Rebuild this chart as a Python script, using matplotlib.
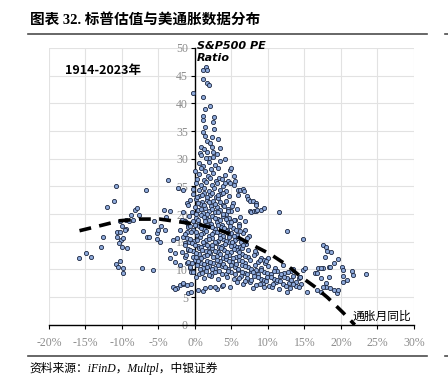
import numpy as np
import matplotlib.pyplot as plt
from matplotlib.lines import Line2D

# CPI yoy (%) vs S&P500 PE, monthly 1914-2023
deflation_pts = [
    (-15.9, 12.0), (-14.9, 13.0), (-14.2, 12.2), (-12.8, 14.0), (-12.6, 15.8), (-12.1, 21.2),
    (-11.1, 22.4), (-10.8, 25.1), (-10.8, 11.0), (-10.3, 11.6), (-10.5, 10.5), (-9.9, 10.2),
    (-9.9, 9.3), (-10.7, 15.9), (-10.6, 16.7), (-10.3, 16.8), (-10.1, 15.3), (-9.8, 15.6),
    (-10.4, 14.7), (-10.0, 14.1), (-9.3, 13.8), (-9.5, 17.4), (-10.0, 17.8), (-9.6, 17.1),
    (-10.3, 18.7), (-9.4, 19.0), (-9.0, 18.8), (-8.7, 19.9), (-8.2, 20.8), (-7.9, 21.1),
    (-7.7, 19.9), (-8.5, 19.0), (-6.7, 24.4), (-7.1, 17.0), (-6.5, 15.9), (-6.3, 15.8),
    (-7.2, 10.2), (-5.7, 9.9), (-5.6, 18.8), (-5.2, 16.6), (-5.0, 17.1), (-4.7, 17.8),
    (-4.1, 17.1), (-5.2, 15.5), (-4.8, 15.0), (-3.9, 19.5), (-4.2, 20.8), (-3.4, 20.6),
    (-3.7, 26.2), (-3.4, 13.5), (-2.7, 12.9), (-3.4, 12.0), (-2.7, 11.4), (-3.0, 15.3),
    (-2.5, 15.6), (-2.3, 24.7), (-1.6, 24.4), (-2.1, 17.1), (-1.8, 19.0), (-1.1, 22.0),
    (-0.9, 18.1), (-1.1, 16.8), (-1.6, 15.9), (-1.4, 14.7), (-0.9, 13.5), (-1.4, 12.3),
    (-1.1, 11.1), (-2.1, 10.8), (-0.7, 10.2), (-0.5, 9.6), (-3.0, 6.9), (-2.5, 6.6),
    (-2.1, 7.2), (-1.6, 7.3), (-1.1, 7.2), (-0.5, 7.3), (-0.9, 5.7), (-0.5, 6.0),
    (-2.7, 6.5), (-0.2, 41.8), (-1.6, 20.3), (-1.3, 18.8), (-0.8, 15.0), (-1.7, 13.1),
]

high_pe_pts = [
    (1.1, 46.0), (1.5, 46.6), (1.6, 46.1), (1.1, 44.4), (1.6, 43.6), (2.0, 43.3),
    (1.1, 41.2), (2.1, 39.6), (1.4, 39.0), (1.1, 37.7), (1.1, 37.0), (2.6, 37.6),
    (2.5, 36.7), (2.6, 35.3), (1.4, 35.8), (1.1, 34.9), (1.4, 34.1), (2.4, 33.9),
    (3.2, 33.5), (1.6, 33.2), (2.1, 32.8), (0.9, 32.2), (2.3, 32.1), (3.5, 31.9),
]

body_pts = [
    (0.7, 31.1), (1.6, 31.3), (2.5, 31.3), (0.9, 30.6), (2.0, 30.2), (1.3, 31.8), (3.0, 30.8),
    (1.5, 30.1), (2.5, 30.4), (4.1, 29.9), (0.5, 29.2), (1.1, 28.7), (1.9, 29.4), (2.7, 28.9),
    (3.4, 29.5), (4.8, 28.0), (2.2, 28.2), (0.8, 28.3), (3.1, 28.4), (1.4, 27.7), (0.0, 27.7),
    (0.6, 27.2), (1.8, 26.9), (2.5, 27.4), (3.3, 26.6), (4.1, 27.0), (5.3, 26.8), (0.3, 26.4),
    (1.2, 26.1), (2.1, 26.5), (2.9, 26.0), (3.7, 26.3), (4.5, 26.0), (5.0, 28.3),
    (0.1, 25.6), (0.8, 25.2), (1.5, 25.8), (2.3, 25.3), (3.0, 25.7), (3.8, 25.1), (4.1, 25.6),
    (4.8, 25.6), (5.3, 25.3), (5.5, 25.9), (-0.3, 24.6), (0.5, 24.3), (1.2, 24.8), (1.9, 24.2),
    (2.6, 24.7), (3.4, 24.4), (4.3, 24.2), (5.9, 24.4), (6.2, 24.4), (6.6, 24.5),
    (-0.2, 23.6), (0.6, 23.2), (1.3, 23.8), (2.1, 23.4), (2.9, 23.1), (3.6, 23.7), (3.9, 23.8),
    (4.7, 23.3), (5.9, 23.5), (6.7, 24.1), (7.1, 23.2), (-0.6, 22.5), (0.2, 22.8), (1.0, 22.2),
    (1.7, 22.6), (2.5, 22.3), (3.2, 22.9), (4.2, 22.4), (5.2, 22.0), (7.3, 22.7), (7.5, 22.3),
    (8.0, 22.4), (8.4, 22.0), (8.4, 21.7),
    (-0.9, 21.6), (0.0, 21.3), (0.7, 21.8), (1.4, 21.1), (2.2, 21.5), (3.0, 21.2), (3.8, 21.7),
    (4.5, 21.0), (5.1, 21.4), (-0.4, 20.4), (0.4, 20.7), (1.1, 20.2), (1.9, 20.6), (2.7, 20.3),
    (3.5, 20.8), (4.2, 20.1), (5.0, 20.5), (5.8, 20.9), (7.5, 20.5), (7.7, 20.3), (8.1, 20.5),
    (8.4, 20.6), (8.5, 20.8), (9.1, 20.8), (9.4, 21.1), (11.5, 20.3),
    (-0.8, 19.6), (0.1, 19.3), (0.9, 19.8), (1.6, 19.2), (2.4, 19.6), (3.1, 19.1), (3.9, 19.7),
    (4.7, 19.3), (5.5, 19.0), (6.2, 19.5), (-1.2, 18.5), (-0.3, 18.8), (0.6, 18.3), (1.4, 18.7),
    (2.2, 18.2), (3.0, 18.6), (3.7, 18.1), (4.5, 18.5), (5.3, 18.9), (6.1, 18.3), (6.8, 18.7),
    (-1.0, 17.6), (-0.2, 17.2), (0.5, 17.8), (1.3, 17.4), (2.0, 17.9), (2.8, 17.3), (3.6, 17.7),
    (4.4, 17.1), (5.2, 17.5), (6.0, 17.8), (6.8, 17.2), (-1.4, 16.4), (-0.5, 16.7), (0.3, 16.2),
    (1.1, 16.6), (1.9, 16.1), (2.6, 16.8), (3.4, 16.3), (4.2, 16.9), (5.0, 16.6), (5.8, 16.2),
    (6.6, 16.5), (7.4, 16.1),
    (-1.1, 15.6), (-0.1, 15.2), (0.7, 15.8), (1.5, 15.3), (2.3, 15.7), (3.1, 15.1), (3.9, 15.5),
    (4.7, 15.9), (5.5, 15.4), (6.3, 15.0), (7.2, 15.6), (-1.3, 14.4), (-0.4, 14.8), (0.4, 14.2),
    (1.2, 14.6), (2.0, 14.1), (2.9, 14.7), (3.7, 14.3), (4.6, 14.9), (5.4, 14.5), (5.7, 14.1),
    (6.2, 14.0), (7.0, 14.6), (8.4, 13.0),
    (-1.0, 13.7), (-0.2, 13.3), (0.6, 13.9), (1.5, 13.4), (2.3, 13.8), (3.2, 13.2), (4.0, 13.6),
    (4.9, 13.1), (5.7, 13.5), (6.5, 13.9), (7.3, 13.5), (8.2, 13.3), (-1.2, 12.6), (-0.3, 12.2),
    (0.5, 12.8), (1.3, 12.4), (2.1, 12.9), (3.0, 12.5), (3.8, 12.1), (4.7, 12.7), (5.6, 12.3),
    (6.4, 12.8), (7.3, 12.2), (8.1, 12.6), (9.0, 12.1), (10.0, 12.0),
    (-0.9, 11.4), (0.0, 11.8), (0.8, 11.2), (1.7, 11.6), (2.5, 11.1), (3.4, 11.5), (4.2, 11.9),
    (5.1, 11.3), (6.0, 11.7), (6.9, 11.2), (7.5, 11.7), (8.7, 11.4), (8.9, 11.7), (9.4, 11.7),
    (9.6, 11.1), (9.8, 11.6), (-0.6, 10.4), (0.3, 10.8), (1.1, 10.3), (2.0, 10.7), (2.8, 10.2),
    (3.7, 10.6), (4.6, 10.1), (5.5, 10.5), (6.4, 10.9), (7.3, 10.4), (8.2, 10.8), (9.1, 10.2),
    (10.0, 10.6), (11.0, 10.3), (12.1, 10.8),
    (-0.3, 9.6), (0.6, 9.2), (1.5, 9.8), (2.4, 9.3), (3.3, 9.7), (4.2, 9.1), (5.0, 9.5),
    (5.9, 9.9), (6.8, 9.4), (7.7, 9.8), (8.4, 9.9), (8.6, 9.2), (9.5, 9.6), (10.4, 9.1),
    (11.3, 9.7), (12.2, 9.3), (13.1, 9.8), (13.5, 10.0), (0.2, 8.7), (1.2, 8.4), (2.2, 8.9),
    (3.2, 8.3), (4.4, 8.6), (5.4, 8.2), (6.3, 8.8), (7.2, 8.4), (8.1, 8.9), (9.0, 8.3),
    (9.9, 8.7), (10.8, 8.2), (11.7, 8.8), (12.6, 8.4), (13.5, 8.9), (14.3, 8.5), (14.4, 8.7),
    (13.9, 7.8), (5.8, 7.7), (6.6, 7.3), (7.5, 7.8), (8.4, 7.2), (9.3, 7.6), (10.2, 7.1),
    (11.1, 7.7), (12.0, 7.3), (12.9, 7.6), (13.8, 7.0), (14.6, 7.4), (14.2, 6.9), (13.0, 6.6),
    (12.6, 6.0), (11.5, 6.5), (10.5, 6.8), (9.5, 6.9), (8.0, 6.7),
    (0.4, 6.3), (1.1, 6.2), (2.1, 6.8), (3.0, 6.5), (3.7, 7.0), (4.8, 6.9), (1.4, 6.6),
    (-1.6, 7.5), (2.7, 6.9), (3.8, 7.2),
]

# the dense core between 0% and 5%, second pass
core_pts = [
    (0.3, 23.1), (1.0, 23.5), (1.7, 23.0), (2.4, 23.9), (3.1, 23.5), (0.4, 22.0), (1.2, 21.6),
    (2.0, 22.1), (2.8, 21.8), (3.5, 22.2), (4.0, 21.4), (0.2, 20.1), (0.9, 20.9), (1.6, 20.0),
    (2.3, 20.9), (3.2, 20.4), (3.9, 20.0), (4.6, 20.6), (0.4, 19.0), (1.2, 19.5), (2.0, 18.9),
    (2.7, 19.3), (3.4, 18.9), (4.2, 19.2), (5.0, 18.6), (0.0, 18.0), (0.8, 17.5), (1.6, 18.0),
    (2.4, 17.6), (3.2, 18.0), (4.0, 17.5), (4.8, 17.8), (5.6, 17.1), (-0.7, 17.9), (0.1, 16.8),
    (0.8, 16.4), (1.5, 16.9), (2.3, 16.4), (3.0, 16.8), (3.8, 16.1), (4.6, 16.5), (5.4, 16.0),
    (6.2, 16.9), (-0.6, 15.5), (0.3, 15.4), (1.1, 15.0), (1.9, 15.5), (2.7, 15.0), (3.5, 15.7),
    (4.3, 15.2), (5.1, 15.0), (5.9, 15.6), (0.0, 14.4), (0.8, 14.0), (1.6, 14.4), (2.4, 14.5),
    (3.3, 14.0), (4.1, 14.6), (5.0, 14.2), (6.6, 14.4), (-0.6, 13.6), (0.2, 13.0), (1.0, 13.5),
    (1.9, 13.1), (2.7, 13.4), (3.6, 13.9), (4.4, 13.2), (5.3, 13.7), (6.1, 13.1), (6.9, 12.5),
    (0.1, 12.3), (0.9, 12.0), (1.7, 12.6), (2.5, 12.2), (3.4, 12.8), (4.3, 12.4), (5.2, 12.0),
    (6.0, 12.5), (-0.4, 11.1), (0.4, 11.5), (1.3, 11.0), (2.1, 11.4), (3.0, 11.8), (3.8, 11.0),
    (4.7, 11.6), (5.6, 11.0), (6.5, 11.5), (0.7, 10.0), (1.6, 10.5), (2.4, 10.0), (3.2, 10.8),
    (4.1, 10.4), (5.0, 10.9), (5.9, 10.1), (6.8, 10.6), (7.7, 10.1), (1.0, 9.4), (1.9, 9.0),
    (2.8, 9.6), (3.7, 9.2), (4.6, 9.8), (5.5, 9.2), (6.4, 9.6), (7.2, 9.1), (8.0, 9.5),
    (9.0, 9.9), (9.9, 9.4), (10.8, 9.8), (11.8, 9.2), (12.7, 9.6), (7.7, 8.1), (8.6, 8.6),
    (9.5, 8.1), (10.4, 8.6), (11.3, 8.1), (12.2, 8.7), (13.1, 8.1), (6.0, 8.5), (6.8, 7.9),
    (8.9, 7.4), (9.8, 7.9), (10.7, 7.4), (11.6, 7.9), (12.5, 7.1), (13.4, 7.4),
]

high_inflation_pts = [
    (12.6, 17.0), (14.8, 15.5), (17.6, 14.4), (18.0, 14.1), (18.1, 13.4), (18.7, 13.2),
    (17.8, 12.3), (19.6, 11.9), (19.0, 11.1), (18.3, 10.4), (17.6, 10.3), (16.9, 10.2),
    (16.4, 9.3), (20.1, 10.5), (20.3, 9.9), (21.5, 9.8), (21.7, 9.0), (23.5, 9.2),
    (20.3, 8.9), (20.8, 8.1), (20.3, 7.8), (19.4, 5.8), (19.6, 6.3), (19.0, 6.3),
    (18.5, 6.6), (18.0, 6.9), (17.6, 6.9), (17.3, 6.0), (18.0, 7.5), (18.3, 8.7),
    (17.3, 8.4), (15.3, 6.0), (16.7, 6.3), (14.8, 9.9), (15.1, 10.2), (14.4, 8.7),
    (16.7, 9.3), (17.3, 10.2), (18.5, 10.4),
]

# dashed trend line (polynomial fit in the source)
trend_x = [-15.8, -12.7, -10.3, -7.5, -4.8, -2.1, 0.7, 3.4, 5.8, 7.9, 10.3, 12.6, 14.4, 16.4, 18.2, 20.3, 21.9]
trend_y = [17.0, 18.0, 18.8, 19.1, 19.1, 18.6, 18.1, 17.1, 15.9, 14.4, 12.8, 10.8, 8.8, 6.9, 4.9, 2.2, 0.0]

x_ticks = [-20, -15, -10, -5, 0, 5, 10, 15, 20, 25, 30]
y_ticks = [0, 5, 10, 15, 20, 25, 30, 35, 40, 45, 50]

cjk = ['Noto Sans CJK SC', 'DejaVu Sans']
serif_cjk = ['Liberation Serif', 'Noto Sans CJK SC']

all_pts = deflation_pts + high_pe_pts + body_pts + core_pts + high_inflation_pts
xs = [p[0] for p in all_pts]
ys = [p[1] for p in all_pts]

fig = plt.figure(figsize=(4.48, 3.9), dpi=100)
ax = fig.add_axes([0.109, 0.167, 0.815, 0.71])

ax.scatter(xs, ys, s=9, c='#8fabdc', edgecolors='#1b2640', linewidths=0.6, zorder=3)
ax.plot(trend_x, trend_y, color='black', lw=2.6, linestyle=(0, (3.3, 2.3)),
        dash_capstyle='butt', zorder=4)

ax.set_xlim(-20, 30)
ax.set_ylim(0, 50)
ax.set_xticks(x_ticks)
ax.set_yticks(y_ticks)
ax.set_xticklabels([f'{v}%' for v in x_ticks])
ax.grid(True, color='#e2e2e2', lw=0.8, zorder=0)
ax.set_axisbelow(True)

for s in ['top', 'right']:
    ax.spines[s].set_visible(False)
ax.spines['left'].set_position(('data', 0))
ax.spines['left'].set_color('black')
ax.spines['bottom'].set_color('black')
ax.spines['left'].set_linewidth(1.0)
ax.spines['bottom'].set_linewidth(1.0)
ax.tick_params(axis='both', length=3, width=0.8, colors='black', labelcolor='#8c8c8c',
               labelsize=8.5)
ax.tick_params(axis='x', pad=6)
ax.tick_params(axis='y', pad=2)
for lab in ax.get_xticklabels() + ax.get_yticklabels():
    lab.set_family('Liberation Serif')

ax.text(0.3, 51.2, 'S&P500 PE\nRatio', fontsize=8, fontweight='bold', style='italic',
        ha='left', va='top', linespacing=1.2, clip_on=False, zorder=5)
ax.text(-17.8, 46.0, '1914-2023年', fontsize=9, fontweight='bold', style='italic',
        family=cjk, ha='left', va='center')
ax.text(21.6, 1.6, '通胀月同比', fontsize=8.5, style='italic', family=cjk,
        ha='left', va='center')

# header and footer
fig.text(0.066, 0.948, '图表 32. 标普估值与美通胀数据分布', fontsize=10.5, fontweight='bold',
         family=serif_cjk, ha='left', va='center')
fig.add_artist(Line2D([0.063, 0.953], [0.913, 0.913], color='#4d4d4d', lw=1.2))
fig.add_artist(Line2D([0.993, 1.0], [0.913, 0.913], color='#4d4d4d', lw=1.2))
fig.add_artist(Line2D([0.063, 0.953], [0.087, 0.087], color='#4d4d4d', lw=1.2))
fig.add_artist(Line2D([0.993, 1.0], [0.087, 0.087], color='#4d4d4d', lw=1.2))
fig.text(0.066, 0.056, '资料来源：iFinD，Multpl，中银证券', fontsize=8.5, style='italic',
         family=serif_cjk, ha='left', va='center')

fig.savefig('out.png', dpi=100)
